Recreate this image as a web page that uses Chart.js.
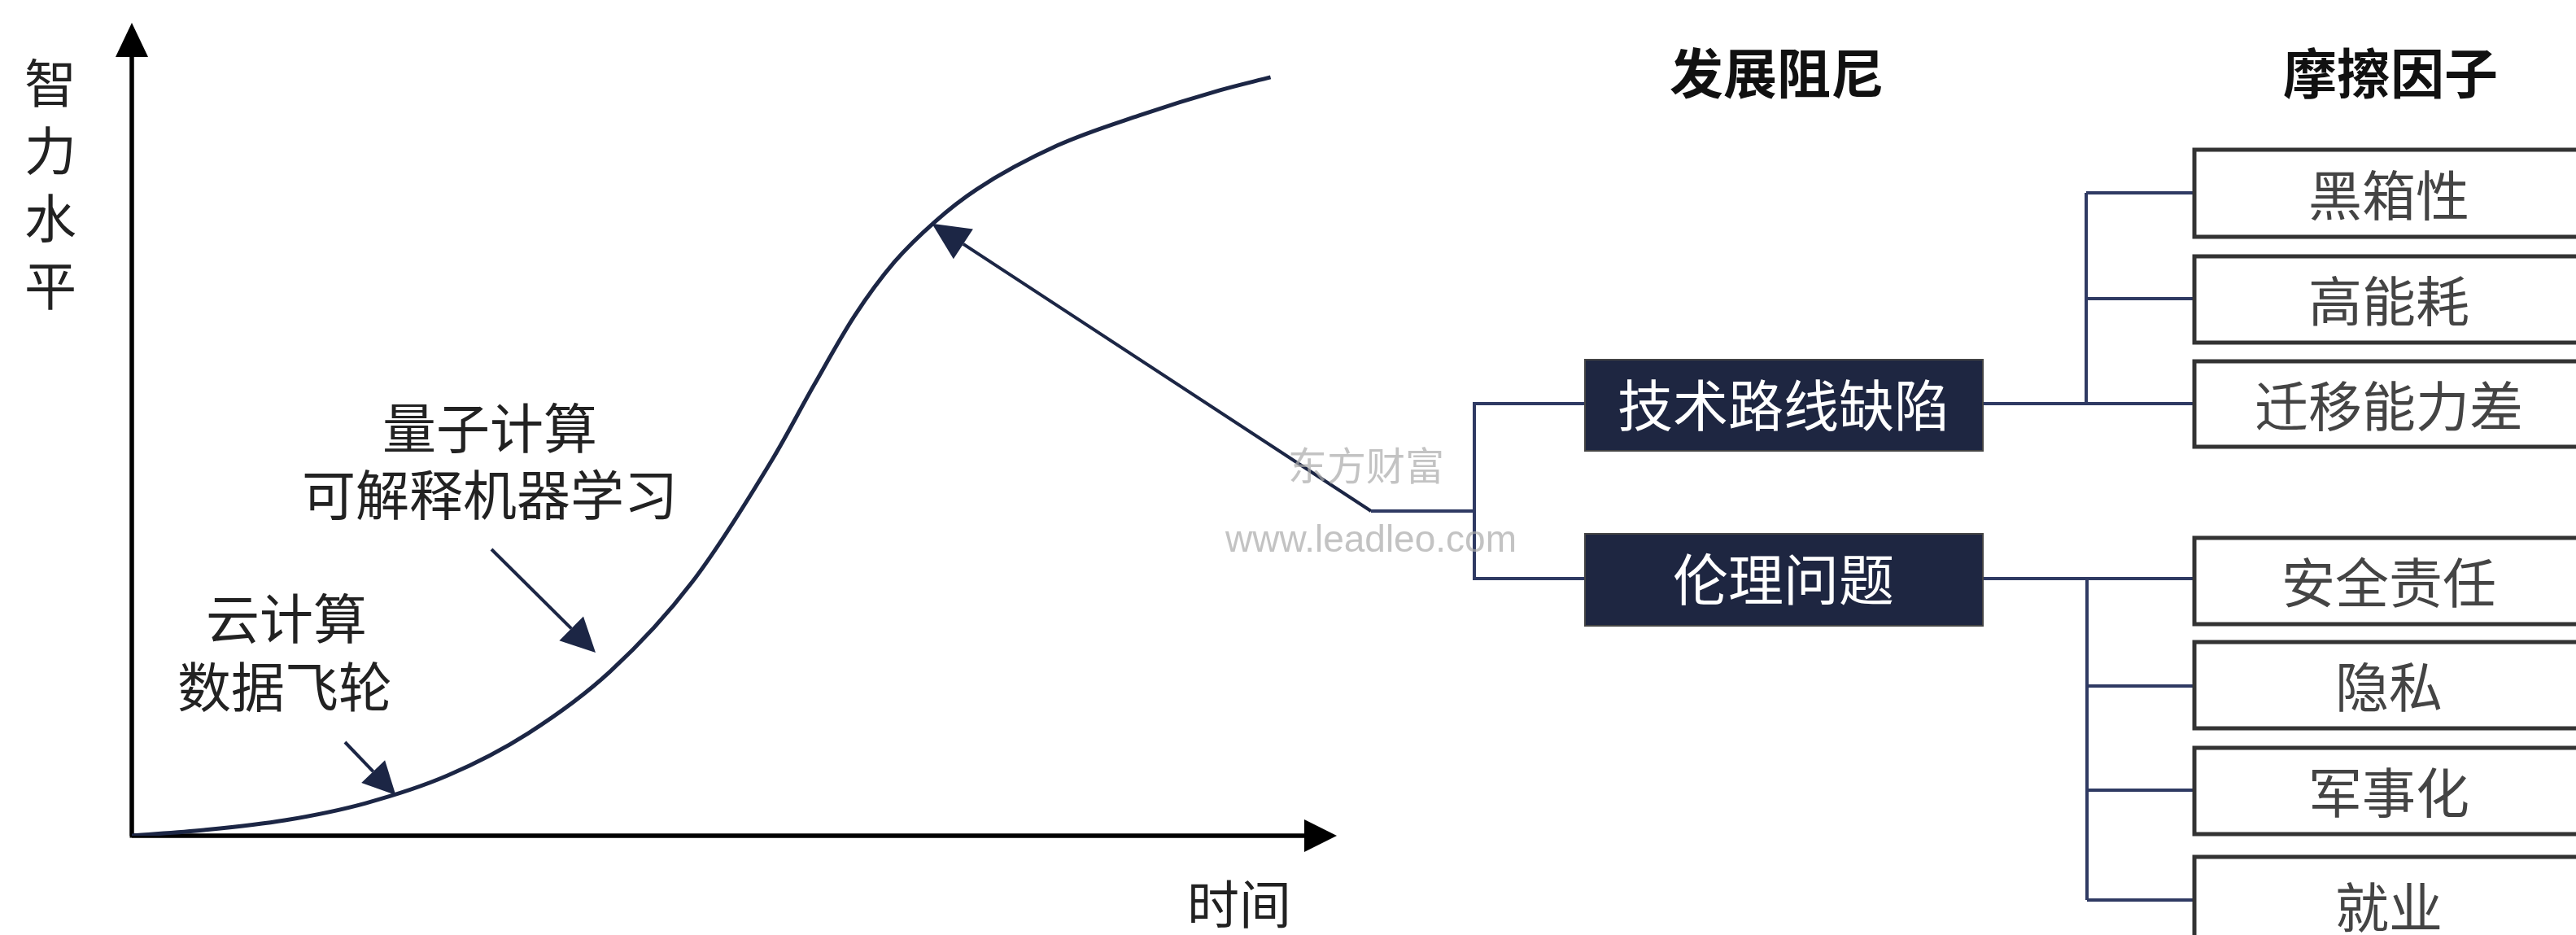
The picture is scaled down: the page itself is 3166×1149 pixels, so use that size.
<!DOCTYPE html>
<html>
<head>
<meta charset="utf-8">
<script src="https://cdn.jsdelivr.net/npm/chart.js"></script>
<style>
  html, body { margin: 0; padding: 0; background: #fff; }
  canvas { display: block; }
</style>
</head>
<body>
<canvas id="chart" width="3166" height="1149"></canvas>
<script>
// S-curve: time vs intelligence level (0..100 units)
const timeValues  = [0, 6, 12.7, 19.4, 26.2, 32.9, 39.7, 46.5, 53.2, 56.6, 60, 63.3, 66.7, 70.1, 76.8, 83.6, 90.3, 94.5];
const levelValues = [0, 0.7, 1.9, 4.0, 7.4, 12.6, 20.2, 31.2, 46.4, 55.4, 64.0, 70.6, 75.6, 79.5, 84.9, 88.6, 91.7, 93.3];

const yTitle = ['智', '力', '水', '平'];
const xTitle = '时间';
const earlyDrivers = ['云计算', '数据飞轮'];
const laterDrivers = ['量子计算', '可解释机器学习'];
const columnHeaders = ['发展阻尼', '摩擦因子'];
const dampers = ['技术路线缺陷', '伦理问题'];
const techFactors = ['黑箱性', '高能耗', '迁移能力差'];
const ethicFactors = ['安全责任', '隐私', '军事化', '就业'];
const watermark = ['东方财富', 'www.leadleo.com'];

const CJK = '"Noto Sans CJK SC", "Noto Sans", sans-serif';
const NAVY = '#1c2645';
const LINK = '#2f3a63';

function arrow(ctx, x1, y1, x2, y2, len, half, color, width) {
  const a = Math.atan2(y2 - y1, x2 - x1);
  const bx = x2 - Math.cos(a) * len, by = y2 - Math.sin(a) * len;
  ctx.save();
  ctx.strokeStyle = color;
  ctx.fillStyle = color;
  ctx.lineWidth = width;
  ctx.beginPath();
  ctx.moveTo(x1, y1);
  ctx.lineTo(bx, by);
  ctx.stroke();
  ctx.beginPath();
  ctx.moveTo(x2, y2);
  ctx.lineTo(bx + Math.sin(a) * half, by - Math.cos(a) * half);
  ctx.lineTo(bx - Math.sin(a) * half, by + Math.cos(a) * half);
  ctx.closePath();
  ctx.fill();
  ctx.restore();
}

function text(ctx, str, x, y, size, color, weight) {
  ctx.font = (weight || 'normal') + ' ' + size + 'px ' + CJK;
  ctx.fillStyle = color;
  ctx.textAlign = 'center';
  ctx.textBaseline = 'middle';
  ctx.fillText(str, x, y);
}

function poly(ctx, pts) {
  ctx.beginPath();
  ctx.moveTo(pts[0][0], pts[0][1]);
  for (let i = 1; i < pts.length; i++) ctx.lineTo(pts[i][0], pts[i][1]);
  ctx.stroke();
}

const diagram = {
  id: 'diagram',
  beforeDatasetsDraw(chart) {
    const ctx = chart.ctx;
    const { left, right, top, bottom } = chart.chartArea;
    // axes with arrow heads
    ctx.save();
    ctx.strokeStyle = '#000';
    ctx.lineWidth = 5;
    poly(ctx, [[left, top + 40], [left, bottom], [right - 40, bottom]]);
    ctx.restore();
    arrow(ctx, left, bottom, left, top, 42, 20, '#000', 5);
    arrow(ctx, left, bottom, right, bottom, 40, 20, '#000', 5);
  },
  afterDraw(chart) {
    const ctx = chart.ctx;
    const xs = chart.scales.x, ys = chart.scales.y;
    const px = v => xs.getPixelForValue(v), py = v => ys.getPixelForValue(v);
    const { right, bottom } = chart.chartArea;

    // axis titles
    yTitle.forEach((c, i) => text(ctx, c, 62, 102 + i * 83, 64, '#222'));
    text(ctx, xTitle, right - 120, bottom + 84, 64, '#222');

    // driver annotations
    text(ctx, earlyDrivers[0], 352, 760, 66, '#222');
    text(ctx, earlyDrivers[1], 350, 844, 66, '#222');
    text(ctx, laterDrivers[0], 602, 526, 66, '#222');
    text(ctx, laterDrivers[1], 602, 608, 66, '#222');
    arrow(ctx, 424, 912, px(21.9), py(5.0), 40, 20, NAVY, 4);
    arrow(ctx, 604, 675, 732, 802, 42, 21, NAVY, 4);

    // damping arrow pointing to the curve
    const jx = 1685, jy = 628;
    arrow(ctx, jx, jy, px(66.4), py(75.3), 46, 22, NAVY, 4);

    // tree links
    ctx.save();
    ctx.strokeStyle = LINK;
    ctx.lineWidth = 4;
    poly(ctx, [[jx, jy], [1812, jy]]);
    poly(ctx, [[1948, 496], [1812, 496], [1812, 711], [1948, 711]]);
    const techY = [237, 367, 496];
    const ethicY = [711, 843, 971, 1106];
    poly(ctx, [[2437, 496], [2564, 496]]);
    poly(ctx, [[2564, techY[0]], [2564, techY[techY.length - 1]]]);
    techY.forEach(y => poly(ctx, [[2564, y], [2695, y]]));
    poly(ctx, [[2437, 711], [2565, 711]]);
    poly(ctx, [[2565, ethicY[0]], [2565, ethicY[ethicY.length - 1]]]);
    ethicY.forEach(y => poly(ctx, [[2565, y], [2695, y]]));
    ctx.restore();

    // headers
    text(ctx, columnHeaders[0], 2184, 90, 66, '#111', 'bold');
    text(ctx, columnHeaders[1], 2938, 90, 66, '#111', 'bold');

    // damper boxes
    const damperBoxes = [[442, 554], [656, 769]];
    damperBoxes.forEach((b, i) => {
      ctx.fillStyle = '#1e2641';
      ctx.fillRect(1948, b[0], 489, b[1] - b[0]);
      ctx.strokeStyle = '#444';
      ctx.lineWidth = 2;
      ctx.strokeRect(1948, b[0], 489, b[1] - b[0]);
      text(ctx, dampers[i], 2192, (b[0] + b[1]) / 2, 68, '#fff');
    });

    // friction factor boxes
    const factorBoxes = [[182, 293], [313, 423], [442, 551], [659, 769], [787, 897], [917, 1027], [1051, 1175]];
    const factors = techFactors.concat(ethicFactors);
    factorBoxes.forEach((b, i) => {
      ctx.fillStyle = '#fff';
      ctx.fillRect(2695, b[0], 520, b[1] - b[0]);
      ctx.strokeStyle = '#333';
      ctx.lineWidth = 5;
      ctx.strokeRect(2697, b[0] + 2, 520, b[1] - b[0] - 4);
      text(ctx, factors[i], 2936, (b[0] + b[1]) / 2 + 2, 66, '#444');
    });

    // watermark
    ctx.save();
    ctx.globalAlpha = 0.7;
    text(ctx, watermark[0], 1679, 572, 48, '#aaa');
    ctx.font = '46px "Liberation Sans", Arial, sans-serif';
    ctx.fillStyle = '#aaa';
    ctx.fillText(watermark[1], 1685, 665);
    ctx.restore();
  }
};

new Chart(document.getElementById('chart'), {
  type: 'line',
  data: {
    datasets: [{
      data: timeValues.map((t, i) => ({ x: t, y: levelValues[i] })),
      borderColor: NAVY,
      borderWidth: 5,
      pointRadius: 0,
      fill: false,
      cubicInterpolationMode: 'monotone'
    }]
  },
  options: {
    responsive: false,
    devicePixelRatio: 1,
    animation: false,
    layout: { padding: { left: 162, right: 1523, top: 28, bottom: 122 } },
    plugins: { legend: { display: false }, tooltip: { enabled: false } },
    scales: {
      x: { type: 'linear', min: 0, max: 100, display: false },
      y: { type: 'linear', min: 0, max: 100, display: false }
    }
  },
  plugins: [diagram]
});
</script>
</body>
</html>
